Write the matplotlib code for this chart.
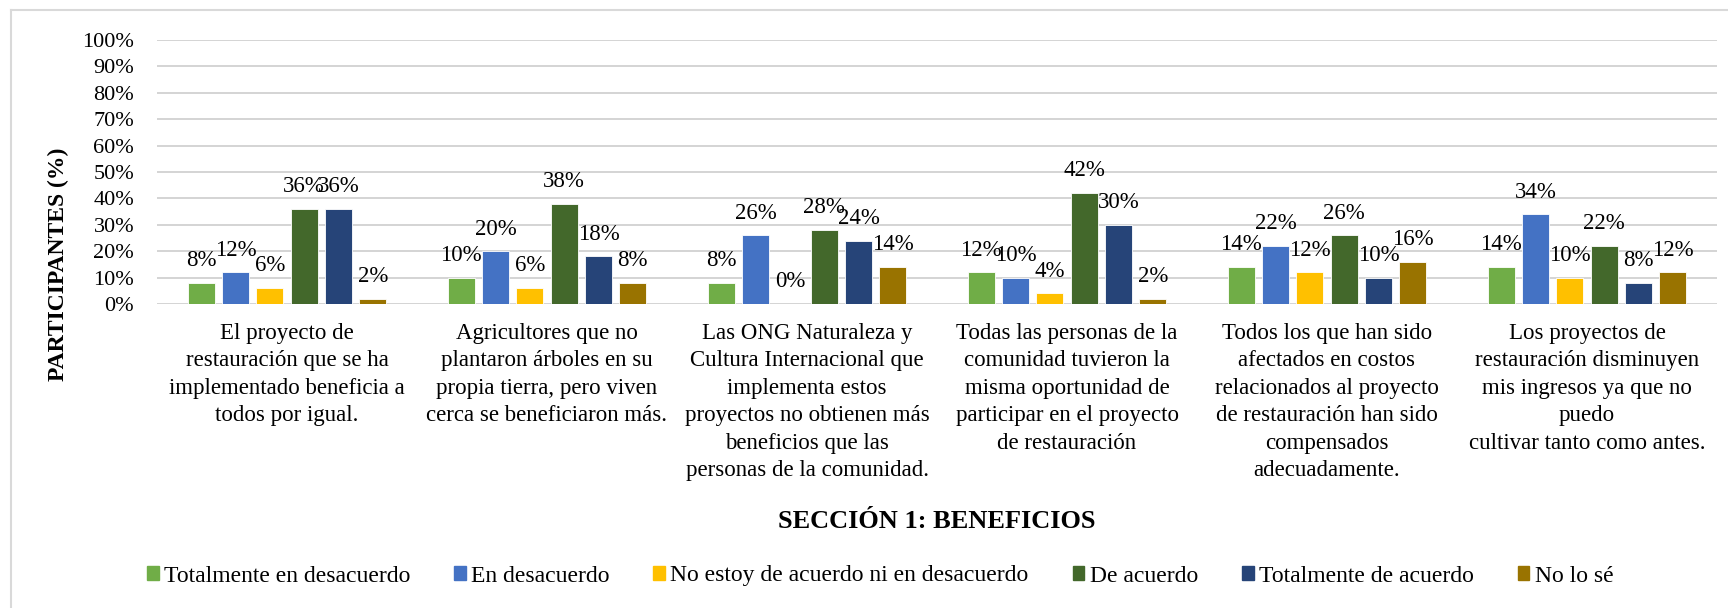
import matplotlib
matplotlib.use("Agg")
import matplotlib.pyplot as plt
from matplotlib.patches import Rectangle
from matplotlib.lines import Line2D
import numpy as np

plt.rcParams['font.family'] = ['Liberation Serif', 'DejaVu Serif']

categories = [
    "El proyecto de\nrestauración que se ha\nimplementado beneficia a\ntodos por igual.",
    "Agricultores que no\nplantaron árboles en su\npropia tierra, pero viven\ncerca se beneficiaron más.",
    "Las ONG Naturaleza y\nCultura Internacional que\nimplementa estos\nproyectos no obtienen más\nbeneficios que las\npersonas de la comunidad.",
    "Todas las personas de la\ncomunidad tuvieron la\nmisma oportunidad de\nparticipar en el proyecto\nde restauración",
    "Todos los que han sido\nafectados en costos\nrelacionados al proyecto\nde restauración han sido\ncompensados\nadecuadamente.",
    "Los proyectos de\nrestauración disminuyen\nmis ingresos ya que no\npuedo\ncultivar tanto como antes.",
]

series_names = [
    "Totalmente en desacuerdo",
    "En desacuerdo",
    "No estoy de acuerdo ni en desacuerdo",
    "De acuerdo",
    "Totalmente de acuerdo",
    "No lo sé",
]

totalmente_desacuerdo = [8, 10, 8, 12, 14, 14]
en_desacuerdo = [12, 20, 26, 10, 22, 34]
ni_acuerdo_ni_desacuerdo = [6, 6, 0, 4, 12, 10]
de_acuerdo = [36, 38, 28, 42, 26, 22]
totalmente_acuerdo = [36, 18, 24, 30, 10, 8]
no_lo_se = [2, 8, 14, 2, 16, 12]

series_values = [totalmente_desacuerdo, en_desacuerdo, ni_acuerdo_ni_desacuerdo,
                 de_acuerdo, totalmente_acuerdo, no_lo_se]

colors = ["#70AD47", "#4472C4", "#FFC000", "#43682B", "#264478", "#997300"]

y_ticks = list(range(0, 101, 10))

W, H = 1728, 608
fig = plt.figure(figsize=(W / 100, H / 100), dpi=100)

# outer border (top and left visible)
fig.add_artist(Line2D([11 / W, 11 / W], [0, 1 - 10 / H], color="#D9D9D9", lw=1.5, transform=fig.transFigure))
fig.add_artist(Line2D([11 / W, 1], [1 - 10 / H, 1 - 10 / H], color="#D9D9D9", lw=1.5, transform=fig.transFigure))

left, right, top, bottom = 157, 1717, 40, 304
ax = fig.add_axes([left / W, 1 - bottom / H, (right - left) / W, (bottom - top) / H])

x = np.arange(len(categories))
slot = 0.132
bw = 0.104
n = len(series_values)
for j, (vals, col, name) in enumerate(zip(series_values, colors, series_names)):
    xs = x + (j - (n - 1) / 2) * slot
    ax.bar(xs, vals, width=bw, color=col, edgecolor="white", linewidth=0.6, label=name, zorder=3)
    for xi, v in zip(xs, vals):
        ax.annotate(f"{v}%", (xi, v), xytext=(0, 12), textcoords="offset points",
                    ha="center", va="baseline", fontsize=16.5, color="black", zorder=4)

ax.set_xlim(-0.5, len(categories) - 0.5)
ax.set_ylim(0, 100)
ax.set_yticks(y_ticks)
ax.set_yticklabels([f"{t}%" for t in y_ticks], fontsize=16)
ax.tick_params(axis="y", length=0, pad=16.5)
ax.set_xticks([])
ax.yaxis.grid(True, color="#D4D4D4", lw=1.4)
ax.set_axisbelow(True)
for s in ax.spines.values():
    s.set_visible(False)

# category labels
for i, lab in enumerate(categories):
    ax.text(i, -(323 - bottom) / (bottom - top), lab, transform=ax.get_xaxis_transform(),
            ha="center", va="top", fontsize=16.5, linespacing=1.40, multialignment="center")

fig.text(937 / W, 1 - 528 / H, "SECCIÓN 1: BENEFICIOS", ha="center", va="baseline",
         fontsize=19, fontweight="bold")

fig.text(58 / W, 1 - 264 / H, "PARTICIPANTES (%)", rotation=90, ha="center", va="center",
         fontsize=17, fontweight="bold")

handles = [Rectangle((0, 0), 1, 1, color=c) for c in colors]
fig.legend(handles, series_names, loc="center", bbox_to_anchor=(880 / W, 1 - 576 / H),
           ncol=6, frameon=False, fontsize=17, handlelength=0.5, handleheight=0.5,
           handletextpad=0.22, columnspacing=1.86, borderaxespad=0)

fig.savefig("out.png", dpi=100)
